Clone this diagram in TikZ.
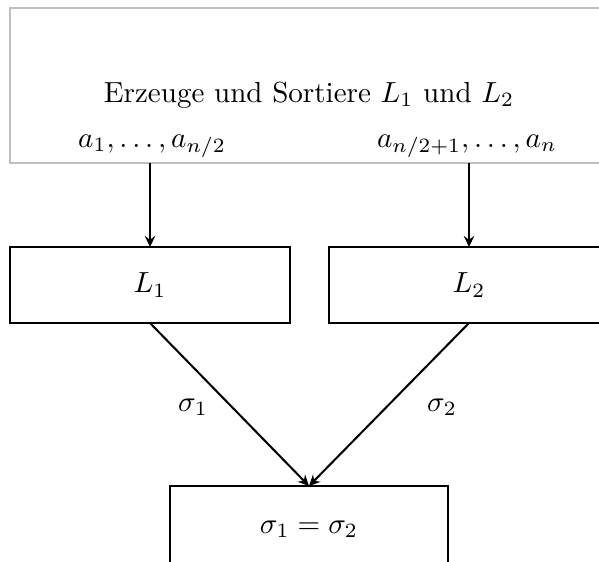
\documentclass[tikz,border=0pt]{standalone}
\usetikzlibrary{arrows.meta}
\begin{document}
\begin{tikzpicture}[x=0.344pt,y=-0.344pt,
  box/.style={draw=black,line width=0.7pt,rectangle,inner sep=0pt,outer sep=0pt},
  graybox/.style={draw=black!25,line width=0.7pt,rectangle,inner sep=0pt,outer sep=0pt},
  conn/.style={-{Stealth[length=3.8pt,width=3.6pt,inset=1.3pt]},line width=0.7pt},
  lbl/.style={inner sep=0pt,anchor=base}]
\useasboundingbox (0,0) rectangle (599,561);
\clip (0,0) rectangle (599,561);
\node[graybox,minimum width=599*0.344pt,minimum height=155*0.344pt] (top) at (309.5,85.5) {};
\node[lbl] (title) at (309,102) {Erzeuge und Sortiere $L_1$ und $L_2$};
\node[lbl] (a1) at (152,147) {$a_1,\ldots,a_{n/2}$};
\node[lbl] (a2) at (467,147) {$a_{n/2+1},\ldots,a_n$};
\node[box,minimum width=280*0.344pt,minimum height=76*0.344pt] (L1) at (150,285) {$L_1$};
\node[box,minimum width=280*0.344pt,minimum height=76*0.344pt] (L2) at (469,285) {$L_2$};
\node[box,minimum width=278*0.344pt,minimum height=86*0.344pt] (bot) at (309,529) {$\sigma_1=\sigma_2$};
\draw[conn] (top.south -| L1.north) -- (L1.north);
\draw[conn] (top.south -| L2.north) -- (L2.north);
\draw[conn] (L1.south) -- (bot.north);
\draw[conn] (L2.south) -- (bot.north);
\node[inner sep=0pt] (s1) at (193,407) {$\sigma_1$};
\node[inner sep=0pt] (s2) at (442,407) {$\sigma_2$};
\end{tikzpicture}
\end{document}
